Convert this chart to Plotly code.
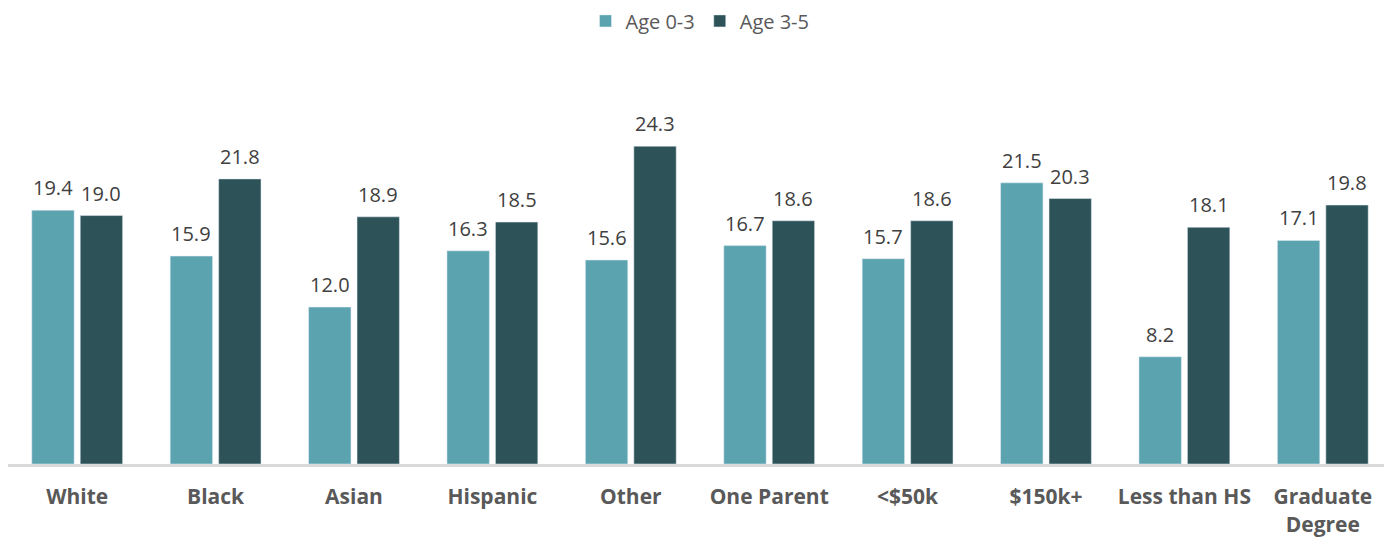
import plotly.graph_objects as go

categories = ["White", "Black", "Asian", "Hispanic", "Other", "One Parent", "<$50k", "$150k+", "Less than HS", "Graduate<br>Degree"]
age_0_3 = [19.4, 15.9, 12.0, 16.3, 15.6, 16.7, 15.7, 21.5, 8.2, 17.1]
age_3_5 = [19.0, 21.8, 18.9, 18.5, 24.3, 18.6, 18.6, 20.3, 18.1, 19.8]

FONT = "Open Sans"
fig = go.Figure()
fig.add_trace(go.Bar(name="Age 0-3", x=categories, y=age_0_3, marker_color="#5BA3AF"))
fig.add_trace(go.Bar(name="Age 3-5", x=categories, y=age_3_5, marker_color="#2D5359"))

# value labels above bars, positioned via the category axis
for vals, shift in ((age_0_3, -0.175), (age_3_5, 0.175)):
    for i, v in enumerate(vals):
        fig.add_annotation(x=i + shift, y=v, xref="x", yref="y",
                           text=f"{v:.1f}", showarrow=False, yanchor="bottom",
                           yshift=7, font=dict(size=20, color="#404040", family=FONT))

fig.update_layout(
    width=1392, height=538,
    margin=dict(l=0, r=8, t=116, b=82),
    paper_bgcolor="white", plot_bgcolor="white",
    barmode="group", bargap=0.30, bargroupgap=0.125,
    font=dict(family=FONT, color="#595959"),
    legend=dict(orientation="h", x=0.5, xanchor="center", y=0.976, yref="container", yanchor="middle",
                font=dict(size=20, color="#595959", family=FONT), itemwidth=30, traceorder="normal"),
    xaxis=dict(showline=True, linecolor="#D9D9D9", linewidth=3, ticks="", automargin=False,
               range=[-0.5, 9.5], fixedrange=True,
               tickfont=dict(size=21, color="#595959", family=FONT), showgrid=False,
               ticklabelstandoff=12),
    yaxis=dict(range=[0, 26], visible=False, showgrid=False),
)
fig.update_xaxes(tickprefix="<b>", ticksuffix="</b>")
fig.write_html("out.html")
